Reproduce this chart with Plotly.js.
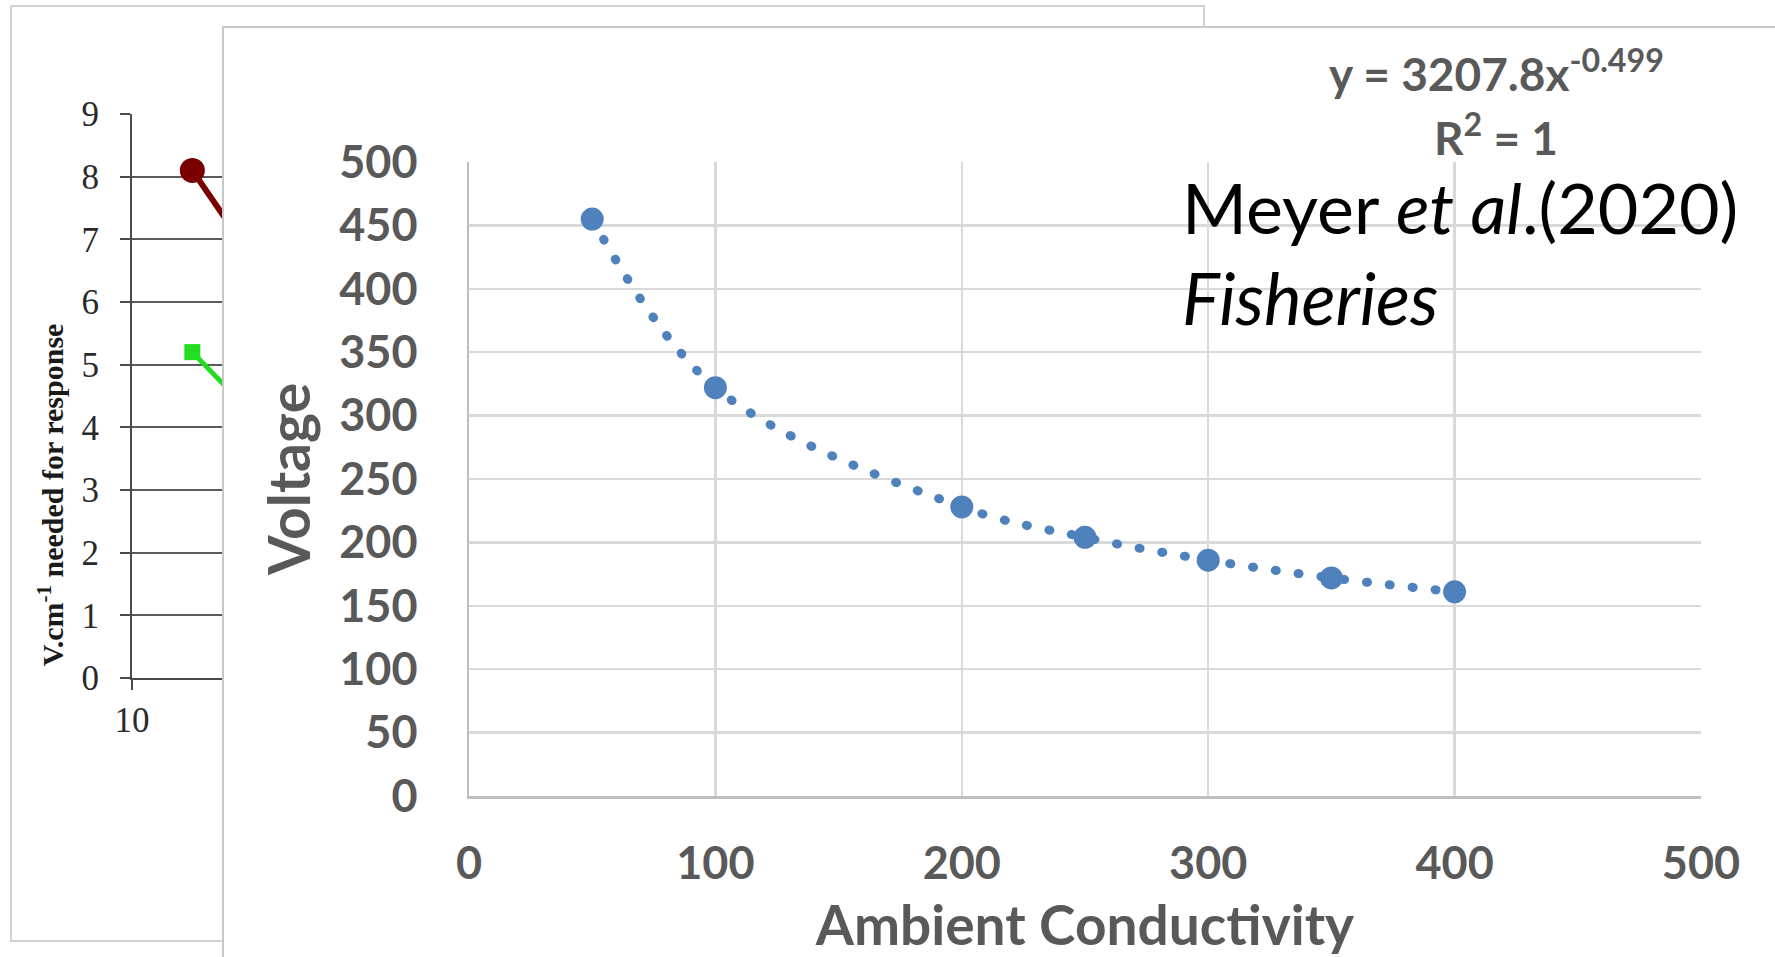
<!DOCTYPE html>
<html>
<head>
<meta charset="utf-8">
<script src="https://cdn.plot.ly/plotly-3.0.1.min.js"></script>
<style>
  html, body { margin: 0; padding: 0; background: #ffffff; overflow: hidden; width: 1775px; height: 957px; }
  #bgPanel { position: absolute; left: 10px; top: 5px; width: 1191px; height: 933px; border: 2px solid #d2d2d2; background: #ffffff; }
  #fgPanel { position: absolute; left: 222px; top: 26px; width: 1551px; height: 929px; border-left: 2px solid #c8c8c8; border-top: 2px solid #c8c8c8; background: #ffffff; }
</style>
</head>
<body>
<div id="bgPanel"></div>
<div id="fgPanel"></div>
<script>
// ---------- Foreground chart data (Meyer et al. 2020) ----------
const conductivity = [50, 100, 200, 250, 300, 350, 400];
const voltage = [455, 322, 228, 204, 186, 172, 161];
const fgXTicks = [0, 100, 200, 300, 400, 500];
const fgYTicks = [0, 50, 100, 150, 200, 250, 300, 350, 400, 450, 500];
const fgXTitle = "Ambient Conductivity";
const fgYTitle = "Voltage";
const equationText = "y = 3207.8x<sup>-0.499</sup>";
const r2Text = "R<sup>2</sup> = 1";
const citationLine1 = "Meyer <i>et al</i>.(2020)";
const citationLine2 = "<i>Fisheries</i>";

// ---------- Background chart data (partly hidden behind the front panel) ----------
const bgX = [15, 30, 100, 1000];
const bgRed = [8.1, 5.7, 3.6, 2.2];
const bgGreen = [5.2, 3.5, 2.4, 1.5];
const bgXTicks = [10];
const bgXTickText = ["10"];
const bgYTicks = [0, 1, 2, 3, 4, 5, 6, 7, 8, 9];
const bgYTitle = "V.cm<sup>-1</sup> needed for response";

function dropEmptyTexts(id) {
  document.querySelectorAll("#" + id + " svg text").forEach(function (t) {
    if (!t.textContent || !t.textContent.trim()) t.remove();
  });
}

// ---------- Background chart ----------
const serif = "Liberation Serif, Times New Roman, serif";
Plotly.newPlot("bgPanel", [
  { x: bgX, y: bgRed, type: "scatter", mode: "lines+markers",
    line: { color: "#7a0000", width: 6 },
    marker: { symbol: "circle", size: 25, color: "#7a0000" }, showlegend: false },
  { x: bgX, y: bgGreen, type: "scatter", mode: "lines+markers",
    line: { color: "#22dd22", width: 5 },
    marker: { symbol: "square", size: 16, color: "#22dd22" }, showlegend: false }
], {
  width: 1191, height: 933,
  margin: { l: 120, r: 43, t: 107, b: 262 },
  paper_bgcolor: "#ffffff", plot_bgcolor: "#ffffff",
  showlegend: false,
  xaxis: { type: "log", range: [1, 4], tickvals: bgXTicks, ticktext: bgXTickText,
    showgrid: false, zeroline: false, showline: true, linecolor: "#4a4a4a", linewidth: 2,
    ticks: "outside", ticklen: 10, tickwidth: 2, tickcolor: "#4a4a4a",
    tickfont: { family: serif, size: 35, color: "#2a2a2a" }, ticklabelstandoff: 0 },
  yaxis: { range: [0, 9], tickvals: bgYTicks, showgrid: true, gridcolor: "#5a5a5a", gridwidth: 2,
    zeroline: false, showline: true, linecolor: "#4a4a4a", linewidth: 2,
    ticks: "outside", ticklen: 10, tickwidth: 2, tickcolor: "#4a4a4a",
    tickfont: { family: serif, size: 35, color: "#2a2a2a" }, ticklabelstandoff: 14 },
  annotations: [
    { text: bgYTitle, xref: "paper", yref: "paper", x: -0.0788, y: 0.326,
      xanchor: "center", yanchor: "middle", textangle: -90, showarrow: false,
      font: { family: serif, size: 30, color: "#1a1a1a", weight: "bold" } }
  ]
}, { staticPlot: true }).then(function () { dropEmptyTexts("bgPanel"); });

// ---------- Foreground chart ----------
const sans = "Lato, Open Sans, sans-serif";
Plotly.newPlot("fgPanel", [
  { x: conductivity, y: voltage, type: "scatter", mode: "lines",
    line: { color: "#4f81bd", width: 9, shape: "spline", dash: "1px,22px" },
    showlegend: false, name: "Power trendline" },
  { x: conductivity, y: voltage, type: "scatter", mode: "markers",
    marker: { symbol: "circle", size: 23, color: "#4f81bd" }, showlegend: false, name: "Voltage" }
], {
  width: 1551, height: 929,
  margin: { l: 245, r: 74, t: 134, b: 160.5 },
  paper_bgcolor: "#ffffff", plot_bgcolor: "#ffffff",
  showlegend: false,
  xaxis: { range: [0, 500], tickvals: fgXTicks, showgrid: true, gridcolor: "#d9d9d9", gridwidth: 2.5,
    zeroline: false, showline: true, linecolor: "#bfbfbf", linewidth: 2.5, ticks: "",
    tickfont: { family: sans, size: 45, color: "#595959", weight: "bold" }, ticklabelstandoff: 26,
    title: { text: fgXTitle, standoff: 19, font: { family: sans, size: 55, color: "#595959", weight: "bold" } } },
  yaxis: { range: [0, 500], tickvals: fgYTicks, showgrid: true, gridcolor: "#d9d9d9", gridwidth: 2.5,
    zeroline: false, showline: true, linecolor: "#bfbfbf", linewidth: 2.5, ticks: "",
    tickfont: { family: sans, size: 45, color: "#595959", weight: "bold" }, ticklabelstandoff: 40,
    title: { text: fgYTitle, standoff: 10, font: { family: sans, size: 57, color: "#595959", weight: "bold" } } },
  annotations: [
    { text: equationText, xref: "paper", yref: "paper", x: 0.834, y: 1.144, xanchor: "center", yanchor: "middle",
      showarrow: false, font: { family: sans, size: 46, color: "#595959", weight: "bold" } },
    { text: r2Text, xref: "paper", yref: "paper", x: 0.834, y: 1.044, xanchor: "center", yanchor: "middle",
      showarrow: false, font: { family: sans, size: 46, color: "#595959", weight: "bold" } },
    { text: citationLine1, xref: "paper", yref: "paper", x: 0.577, y: 0.9296, xanchor: "left", yanchor: "middle",
      showarrow: false, font: { family: sans, size: 70, color: "#000000" } },
    { text: citationLine2, xref: "paper", yref: "paper", x: 0.577, y: 0.786, xanchor: "left", yanchor: "middle",
      showarrow: false, font: { family: sans, size: 71, color: "#000000" } }
  ]
}, { staticPlot: true }).then(function () {
  document.querySelectorAll("#fgPanel .scatterlayer path.js-line").forEach(function (p) {
    p.style.strokeLinecap = "round";
  });
  dropEmptyTexts("fgPanel");
});
</script>
</body>
</html>
